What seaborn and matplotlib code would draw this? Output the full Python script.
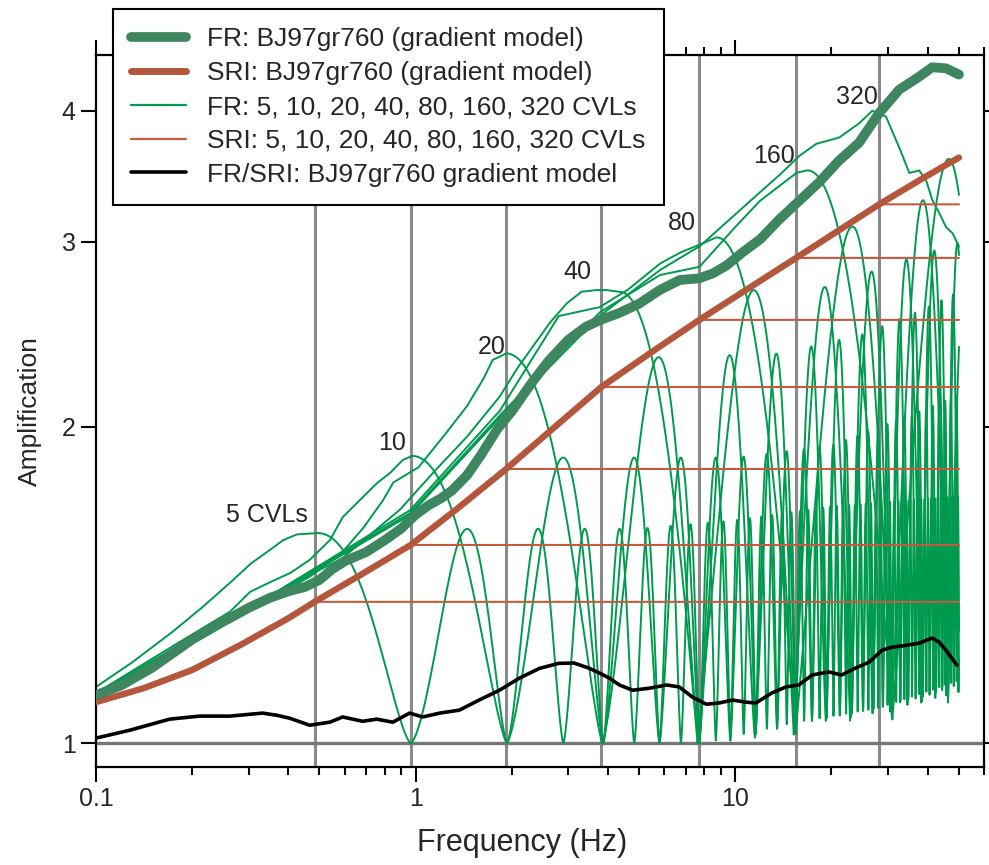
import numpy as np
import matplotlib
matplotlib.use("Agg")
import matplotlib.pyplot as plt
from matplotlib.lines import Line2D
from matplotlib.ticker import FixedLocator, FixedFormatter, LogLocator, NullFormatter, NullLocator
import seaborn as sns

sns.set_style("ticks")
plt.rcParams["font.family"] = ["Liberation Sans", "DejaVu Sans"]

# ---- gradient model ----
fr_freq = [0.1, 0.12, 0.15, 0.2, 0.25, 0.3, 0.35, 0.4, 0.45, 0.5, 0.55, 0.6, 0.7, 0.8, 0.9, 1.0, 1.1, 1.2,
           1.3, 1.45, 1.6, 1.8, 2.0, 2.3, 2.6, 3.0, 3.4, 3.8, 4.3, 5.0, 5.8, 6.7, 7.7, 8.5, 9.4, 10.5, 12.0,
           13.7, 15.8, 18.3, 21.0, 24.4, 28.2, 32.6, 37.6, 41.3, 45.6, 50.1]
fr_amp = [1.111, 1.135, 1.18, 1.255, 1.305, 1.345, 1.375, 1.395, 1.408, 1.43, 1.465, 1.49, 1.52, 1.56, 1.60,
          1.65, 1.685, 1.71, 1.74, 1.80, 1.88, 1.99, 2.07, 2.2, 2.31, 2.42, 2.49, 2.53, 2.565, 2.62, 2.70,
          2.76, 2.77, 2.80, 2.85, 2.93, 3.02, 3.15, 3.28, 3.42, 3.58, 3.73, 3.98, 4.19, 4.31, 4.40, 4.39, 4.33]

sri_freq = [0.1, 0.141, 0.2, 0.283, 0.4, 0.483, 0.683, 0.965, 1.36, 1.92, 2.7, 3.81, 5.4, 7.72, 11.0,
            15.5, 21.0, 28.2, 38.0, 50.1]
sri_amp = [1.094, 1.128, 1.174, 1.24, 1.315, 1.363, 1.45, 1.544, 1.675, 1.824, 1.995, 2.183, 2.35, 2.529,
           2.71, 2.897, 3.075, 3.258, 3.44, 3.61]

ratio_freq = [0.1, 0.128, 0.17, 0.211, 0.262, 0.332, 0.368, 0.404, 0.466, 0.539, 0.591, 0.683, 0.755, 0.848,
              0.958, 1.052, 1.189, 1.37, 1.58, 1.83, 2.11, 2.44, 2.8, 3.13, 3.5, 3.76, 4.04, 4.34, 4.77,
              5.4, 6.1, 6.68, 7.35, 8.12, 8.91, 9.8, 10.8, 11.6, 13.0, 14.4, 15.8, 17.4, 19.6, 21.5,
              23.8, 26.2, 28.8, 30.9, 34.2, 37.6, 41.3, 43.4, 45.6, 49.4]
ratio_amp = [1.011, 1.029, 1.054, 1.061, 1.061, 1.068, 1.063, 1.056, 1.04, 1.047, 1.059, 1.049, 1.054, 1.047,
             1.068, 1.059, 1.068, 1.075, 1.099, 1.123, 1.153, 1.178, 1.191, 1.192, 1.178, 1.166, 1.153,
             1.136, 1.123, 1.128, 1.136, 1.131, 1.106, 1.089, 1.092, 1.099, 1.094, 1.092, 1.116, 1.131,
             1.136, 1.161, 1.169, 1.161, 1.179, 1.194, 1.226, 1.234, 1.239, 1.245, 1.259, 1.248, 1.226, 1.186]

# ---- CVL models ----
cvl_f0 = [0.483, 0.965, 1.92, 3.81, 7.72, 15.5, 28.2]          # grey lines
sri_cvl_level = [1.363, 1.544, 1.824, 2.183, 2.529, 2.897, 3.258]
cvl_text = ["5 CVLs", "10", "20", "40", "80", "160", "320"]
text_x = [0.342, 0.841, 1.728, 3.21, 6.83, 13.2, 24.0]
text_y = [1.648, 1.931, 2.383, 2.81, 3.13, 3.62, 4.12]

# rising branch up to first peak
br5_f = [0.1, 0.128, 0.17, 0.211, 0.262, 0.303, 0.35, 0.384, 0.424, 0.49]
br5_a = [1.131, 1.19, 1.27, 1.34, 1.42, 1.48, 1.527, 1.56, 1.58, 1.585]
br10_f = [0.1, 0.17, 0.262, 0.303, 0.35, 0.404, 0.466, 0.539, 0.591, 0.67, 0.755, 0.83, 0.91, 0.975]
br10_a = [1.116, 1.232, 1.333, 1.393, 1.423, 1.451, 1.494, 1.56, 1.641, 1.704, 1.767, 1.807, 1.86, 1.877]
br20_f = [0.1, 0.17, 0.262, 0.35, 0.466, 0.59, 0.683, 0.788, 0.85, 0.958, 1.02, 1.216, 1.443, 1.62, 1.74, 1.92]
br20_a = [1.114, 1.225, 1.31, 1.37, 1.44, 1.52, 1.60, 1.70, 1.77, 1.81, 1.83, 1.955, 2.09, 2.215, 2.316, 2.35]
br40_f = [0.1, 0.303, 0.59, 0.891, 1.13, 1.443, 1.83, 2.06, 2.32, 2.62, 2.96, 3.3, 3.67, 3.95, 4.34]
br40_a = [1.113, 1.35, 1.50, 1.667, 1.807, 1.955, 2.136, 2.265, 2.383, 2.51, 2.62, 2.69, 2.70, 2.70, 2.69]
br80_f = [0.1, 0.303, 0.958, 1.83, 2.8, 3.76, 4.6, 5.8, 6.7, 7.7, 8.7]
br80_a = [1.112, 1.345, 1.665, 2.07, 2.55, 2.60, 2.70, 2.86, 2.93, 2.98, 3.03]
br160_f = [0.1, 0.303, 0.958, 1.83, 3.76, 5.8, 7.72, 9.8, 11.9, 13.7, 15.5, 16.7]
br160_a = [1.112, 1.343, 1.655, 2.05, 2.57, 2.79, 2.84, 3.08, 3.28, 3.39, 3.49, 3.51]
br320_f = [0.1, 0.303, 0.958, 1.83, 3.76, 5.8, 7.72, 9.8, 12.0, 13.7, 15.8, 17.9, 21.1, 24.4, 26.8,
           29.6, 32.6, 35.0, 37.6, 39.6, 41.3, 43.4, 45.6, 47.8, 50.1]
br320_a = [1.111, 1.341, 1.648, 2.04, 2.55, 2.82, 2.97, 3.17, 3.35, 3.47, 3.62, 3.72, 3.77, 3.89, 4.0,
           3.95, 3.69, 3.49, 3.51, 3.43, 3.29, 3.2, 3.1, 3.06, 2.97]

# peak heights and trough depths of the later resonances
pk5_f, pk5_a = [0.49, 1.5, 5, 10, 20, 51], [1.585, 1.60, 1.60, 1.63, 1.68, 1.72]
tr5_f, tr5_a = [0.1, 8, 15, 28, 40, 51], [1.0, 1.0, 1.045, 1.08, 1.12, 1.15]
pk10_f, pk10_a = [0.975, 3, 10, 20, 35, 51], [1.877, 1.87, 1.87, 1.92, 2.05, 2.15]
tr10_f, tr10_a = [0.1, 9, 15, 28, 40, 51], [1.0, 1.0, 1.04, 1.08, 1.11, 1.14]
pk20_f, pk20_a = [1.92, 6, 14, 25, 40, 51], [2.35, 2.33, 2.35, 2.45, 2.6, 2.7]
tr20_f, tr20_a = [0.1, 10, 16, 28, 51], [1.0, 1.0, 1.04, 1.07, 1.12]
pk40_f, pk40_a = [4.34, 12, 20, 30, 51], [2.69, 2.70, 2.72, 2.85, 3.0]
tr40_f, tr40_a = [0.1, 12, 20, 30, 51], [1.0, 1.0, 1.04, 1.07, 1.12]
pk80_f, pk80_a = [8.7, 23, 40, 51], [3.03, 3.1, 3.3, 3.35]
tr80_f, tr80_a = [0.1, 16, 30, 51], [1.0, 1.02, 1.06, 1.1]
pk160_f, pk160_a = [16.7, 47, 51], [3.51, 3.6, 3.6]
tr160_f, tr160_a = [0.1, 20, 51], [1.0, 1.03, 1.08]
shape_q = [1.5, 1.4, 1.3, 1.0, 1.0, 1.0]

c_green, c_green_thick = "#009a4e", "#3d8660"
c_red, c_red_thick = "#c45a40", "#b4563c"

freq = np.geomspace(0.1, 50.1, 40000)


def cvl_amp(br_f, br_a, f0, pk_f, pk_a, tr_f, tr_a, q):
    lf = np.log(freq)
    branch = np.interp(lf, np.log(br_f), np.log(br_a))
    fp = br_f[-1]
    m = np.arange(2, freq.max() / f0 + 3)
    theta = np.interp(freq, np.r_[fp, m * f0], np.r_[0.0, (m - 1) * np.pi / 2])
    lp = np.interp(lf, np.log(pk_f), np.log(pk_a))
    lt = np.interp(lf, np.log(tr_f), np.log(tr_a))
    osc = lt + (lp - lt) * np.abs(np.cos(theta)) ** q
    return np.exp(np.where(freq > fp, osc, branch))


cvl_curves = [
    cvl_amp(br5_f, br5_a, cvl_f0[0], pk5_f, pk5_a, tr5_f, tr5_a, shape_q[0]),
    cvl_amp(br10_f, br10_a, cvl_f0[1], pk10_f, pk10_a, tr10_f, tr10_a, shape_q[1]),
    cvl_amp(br20_f, br20_a, cvl_f0[2], pk20_f, pk20_a, tr20_f, tr20_a, shape_q[2]),
    cvl_amp(br40_f, br40_a, cvl_f0[3], pk40_f, pk40_a, tr40_f, tr40_a, shape_q[3]),
    cvl_amp(br80_f, br80_a, cvl_f0[4], pk80_f, pk80_a, tr80_f, tr80_a, shape_q[4]),
    cvl_amp(br160_f, br160_a, cvl_f0[5], pk160_f, pk160_a, tr160_f, tr160_a, shape_q[5]),
    np.exp(np.interp(np.log(freq), np.log(br320_f), np.log(br320_a))),
]

fig = plt.figure(figsize=(9.89, 8.65), dpi=100)
ax = fig.add_axes([96 / 989, (865 - 767) / 865, (984 - 96) / 989, (767 - 55) / 865])
ax.set_xscale("log")
ax.set_yscale("log")

for f0 in cvl_f0:
    ax.axvline(f0, color="#8a8a8a", lw=2.2, zorder=1)
ax.axhline(1.0, color="#777777", lw=2.4, zorder=1)

for amp in cvl_curves:
    sns.lineplot(x=freq, y=amp, ax=ax, color=c_green, lw=1.4, estimator=None, sort=False, zorder=2)

for f0, lev in zip(cvl_f0, sri_cvl_level):
    xs = [f for f in sri_freq if f < f0] + [f0, 50.1]
    ys = [a for f, a in zip(sri_freq, sri_amp) if f < f0] + [lev, lev]
    sns.lineplot(x=xs, y=ys, ax=ax, color=c_red, lw=1.5, estimator=None, sort=False, zorder=3)

sns.lineplot(x=sri_freq, y=sri_amp, ax=ax, color=c_red_thick, lw=4.6, estimator=None, sort=False, zorder=4)
sns.lineplot(x=fr_freq, y=fr_amp, ax=ax, color=c_green_thick, lw=7, estimator=None, sort=False, zorder=5)
sns.lineplot(x=ratio_freq, y=ratio_amp, ax=ax, color="black", lw=2.6, estimator=None, sort=False, zorder=6)

for s, x, y in zip(cvl_text, text_x, text_y):
    ax.text(x, y, s, ha="center", va="center", fontsize=18, zorder=7)

ax.set_xlim(0.1, 60)
ax.set_ylim(0.949, 4.52)
ax.xaxis.set_major_locator(FixedLocator([0.1, 1, 10]))
ax.xaxis.set_major_formatter(FixedFormatter(["0.1", "1", "10"]))
ax.xaxis.set_minor_locator(LogLocator(base=10, subs=np.arange(2, 10)))
ax.xaxis.set_minor_formatter(NullFormatter())
ax.yaxis.set_major_locator(FixedLocator([1, 2, 3, 4]))
ax.yaxis.set_major_formatter(FixedFormatter(["1", "2", "3", "4"]))
ax.yaxis.set_minor_locator(NullLocator())
ax.tick_params(which="both", direction="out", top=True, right=True, labelsize=18, width=1.5, color="black")
ax.tick_params(which="major", length=11)
ax.tick_params(which="minor", length=6)
for sp in ax.spines.values():
    sp.set_linewidth(1.6)
    sp.set_color("black")
ax.set_xlabel("Frequency (Hz)", fontsize=22, labelpad=12)
ax.xaxis.label.set_x(0.48)
ax.set_ylabel("Amplification", fontsize=19, labelpad=14)

handles = [
    Line2D([], [], color=c_green_thick, lw=7),
    Line2D([], [], color=c_red_thick, lw=5),
    Line2D([], [], color=c_green, lw=1.6),
    Line2D([], [], color=c_red, lw=1.6),
    Line2D([], [], color="black", lw=2.6),
]
labels = [
    "FR: BJ97gr760 (gradient model)",
    "SRI: BJ97gr760 (gradient model)",
    "FR: 5, 10, 20, 40, 80, 160, 320 CVLs",
    "SRI: 5, 10, 20, 40, 80, 160, 320 CVLs",
    "FR/SRI: BJ97gr760 gradient model",
]
leg = fig.legend(handles, labels, loc="upper left", bbox_to_anchor=(113 / 989, 1 - 9 / 865),
                 bbox_transform=fig.transFigure, frameon=True, fancybox=False, edgecolor="black",
                 framealpha=1, fontsize=19, handlelength=2.05, handletextpad=0.8, borderpad=0.7,
                 labelspacing=0.37, borderaxespad=0)
leg.get_frame().set_linewidth(1.5)
leg.set_zorder(20)

fig.savefig("out.png", dpi=100)
